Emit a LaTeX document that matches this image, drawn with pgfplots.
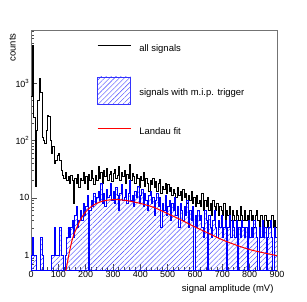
\documentclass[border=0pt]{standalone}
\usepackage{fontspec}
\setmainfont{Liberation Sans}
\usepackage{pgfplots}
\usepackage{pgfplotstable}
\pgfplotsset{compat=1.18}
\usetikzlibrary{patterns.meta}

\pgfplotstableread{
x y
0 600
5 4600
10 250
15 16
20 150
25 500
30 1200
35 700
40 115
45 100
50 90
55 150
60 270
65 260
70 100
75 60
80 80
85 40
90 45
95 55
100 60
105 45
110 30
115 25
120 22
125 28
130 20
135 24
140 18
145 25
150 20
155 8
160 22
165 18
170 26
175 15
180 22
185 20
190 28
195 18
200 24
205 14
210 26
215 20
220 30
225 22
230 17
235 25
240 20
245 35
250 22
255 28
260 18
265 30
270 24
275 33
280 20
285 26
290 29
295 19
300 27
305 32
310 22
315 25
320 35
325 20
330 28
335 24
340 30
345 18
350 26
355 22
360 38
365 20
370 27
375 24
380 18
385 26
390 22
395 15
400 24
405 20
410 28
415 16
420 22
425 18
430 13
435 20
440 17
445 22
450 15
455 19
460 13
465 18
470 21
475 12
480 16
485 14
490 18
495 12
500 17
505 13
510 15
515 11
520 14
525 12
530 10
535 15
540 11
545 13
550 9
555 14
560 10
565 12
570 8
575 11
580 9
585 13
590 8
595 10
600 7
605 11
610 8
615 9
620 7
625 12
630 6
635 9
640 7
645 10
650 6
655 8
660 5
665 9
670 7
675 6
680 8
685 5
690 7
695 6
700 5
705 8
710 4
715 6
720 5
725 7
730 4
735 6
740 5
745 4
750 6
755 5
760 4
765 7
770 5
775 4
780 6
785 4
790 5
795 3
800 6
805 4
810 5
815 3
820 5
825 6
830 4
835 3
840 5
845 4
850 3
855 5
860 4
865 3
870 4
875 3
880 5
885 3
890 4
895 3
900 3
}\allsig

\pgfplotstableread{
x y
0 1
5 2
10 1
15 1
20 0.01
25 0.01
30 0.01
35 2
40 1
45 0.01
50 0.01
55 0.01
60 0.01
65 0.01
70 0.01
75 1
80 1
85 3
90 1
95 1
100 1
105 3
110 1
115 1
120 0.01
125 1
130 2
135 3
140 2
145 3
150 4
155 2
160 5
165 7
170 3
175 4
180 6
185 4
190 8
195 5
200 7
205 11
210 0.01
215 6
220 9
225 7
230 12
235 8
240 10
245 13
250 9
255 18
260 8
265 12
270 7
275 14
280 10
285 11
290 18
295 9
300 13
305 8
310 15
315 11
320 6
325 12
330 17
335 9
340 10
345 14
350 8
355 12
360 20
365 9
370 11
375 7
380 13
385 10
390 16
395 8
400 11
405 14
410 7
415 12
420 9
425 6
430 11
435 13
440 8
445 10
450 5
455 9
460 12
465 7
470 10
475 3
480 8
485 6
490 11
495 5
500 7
505 9
510 4
515 8
520 6
525 10
530 5
535 7
540 3
545 8
550 6
555 4
560 7
565 5
570 9
575 3
580 6
585 4
590 7
595 0.01
600 5
605 3
610 6
615 4
620 5
625 3
630 2
635 6
640 4
645 0.01
650 5
655 3
660 2
665 4
670 6
675 3
680 2
685 4
690 3
695 5
700 2
705 3
710 4
715 0.01
720 3
725 5
730 2
735 4
740 3
745 2
750 4
755 0.01
760 3
765 2
770 4
775 3
780 2
785 3
790 0.01
795 4
800 2
805 3
810 2
815 4
820 3
825 2
830 0.01
835 3
840 2
845 4
850 2
855 3
860 0.01
865 2
870 3
875 4
880 2
885 0.01
890 3
895 2
900 2
}\mipsig

\pgfplotstableread{
x y
125 0.45
130 0.62
140 1.1
150 1.8
160 2.5
170 3.2
180 4.1
190 4.9
200 5.7
220 7.0
240 8.0
260 8.7
280 9.1
300 9.3
320 9.3
340 9.1
360 8.8
380 8.4
400 8.0
450 6.8
500 5.3
550 4.1
600 3.1
650 2.4
700 1.85
750 1.5
800 1.25
850 1.1
900 0.98
}\landau

\begin{document}
\begin{tikzpicture}
\begin{axis}[
  scale only axis, width=246bp, height=240bp,
  xmin=0, xmax=900, ymode=log, ymin=0.55, ymax=8500,
  log origin y=infty,
  xtick={0,100,...,900}, minor x tick num=4,
  ytick={1,10,100,1000},
  yticklabels={1,10,10\textsuperscript{2},10\textsuperscript{3}},
  minor ytick={0.6,0.7,0.8,0.9,2,3,4,5,6,7,8,9,20,30,40,50,60,70,80,90,200,300,400,500,600,700,800,900,2000,3000,4000,5000,6000,7000,8000},
  tick align=inside, xtick pos=bottom, ytick pos=left,
  major tick length=6bp, minor tick length=3bp,
  axis line style={black!55},
  every tick/.style={black!70},
  /pgf/number format/assume math mode=true,
  tick label style={font=\fontsize{9}{10}\selectfont},
  xticklabel style={inner sep=1.5pt},
  yticklabel style={inner sep=1.5pt},
  xlabel={signal amplitude (mV)},
  ylabel={counts},
  label style={font=\fontsize{9.5}{10}\selectfont},
  xlabel style={at={(axis description cs:1,0)}, anchor=north east, yshift=-11bp},
  ylabel style={at={(axis description cs:-0.075,1)}, anchor=east},
  legend cell align=left,
  legend style={at={(axis description cs:0.268,0.948)}, anchor=north west,
    draw=none, fill=none, inner sep=0pt, row sep=21.5bp,
    font=\fontsize{9.5}{10}\selectfont,
    /tikz/every odd column/.append style={column sep=6bp}},
]
\addlegendimage{legend image code/.code={\draw[black, line width=0.8pt] (0bp,3bp) -- (33bp,3bp);}}
\addlegendentry{all signals}
\addlegendimage{legend image code/.code={\draw[blue!80, line width=0.6pt, pattern={Lines[angle=45,distance=3.5pt,line width=0.4pt]}, pattern color=blue!75] (0bp,-10.5bp) rectangle (33bp,16.5bp);}}
\addlegendentry{signals with m.i.p. trigger}
\addlegendimage{legend image code/.code={\draw[red, line width=1.2pt] (0bp,3bp) -- (33bp,3bp);}}
\addlegendentry{Landau fit}
\addplot[const plot, black, line width=0.75pt, forget plot]
  table {\allsig};
\addplot[const plot, draw=blue, line width=0.8pt, forget plot,
  pattern={Lines[angle=45,distance=3.5pt,line width=0.4pt]}, pattern color=blue!75]
  table {\mipsig} \closedcycle;
\addplot[red, line width=1pt, smooth, forget plot]
  table {\landau};
\end{axis}
\path ([xshift=-31bp,yshift=-31bp]current axis.south west) rectangle ([xshift=30bp,yshift=30bp]current axis.north east);
\end{tikzpicture}
\end{document}
